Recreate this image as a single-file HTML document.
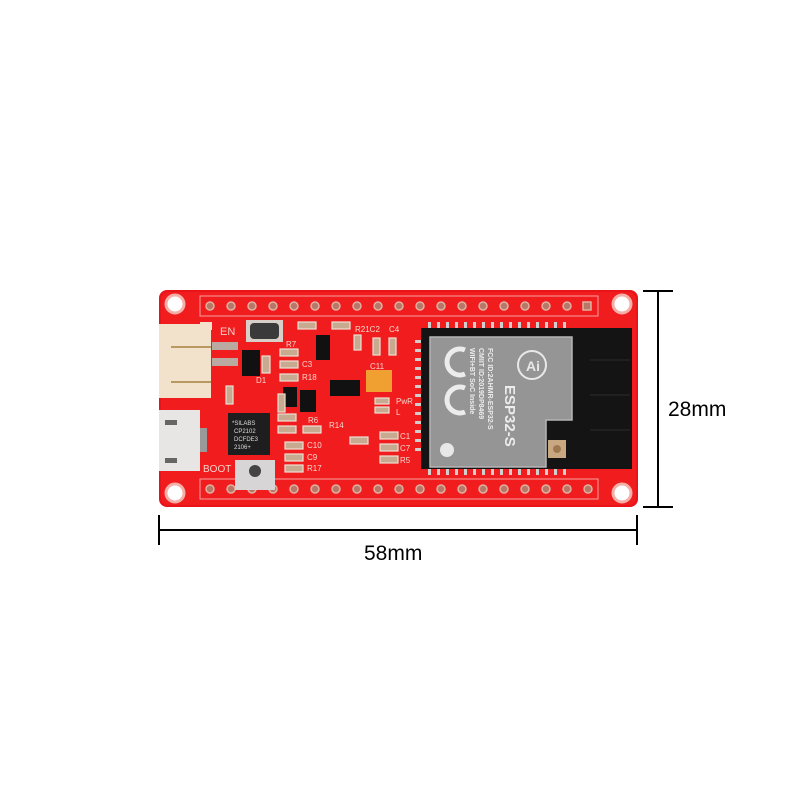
<!DOCTYPE html>
<html><head><meta charset="utf-8"><style>
html,body{margin:0;padding:0;background:#fff;width:800px;height:800px;overflow:hidden}
svg{display:block}
text{font-family:"Liberation Sans",sans-serif}
</style></head><body>
<svg width="800" height="800" viewBox="0 0 800 800" xmlns="http://www.w3.org/2000/svg">
<rect x="159" y="290" width="479" height="217" rx="8" fill="#e8141a"/>
<rect x="161" y="292" width="475" height="213" rx="7" fill="#f01c1e"/>
<rect x="200" y="296" width="398" height="20" fill="none" stroke="#f7a0a0" stroke-width="1"/>
<rect x="200" y="479" width="398" height="20" fill="none" stroke="#f7a0a0" stroke-width="1"/>
<g fill="#fff" stroke="#f4b0a8" stroke-width="3">
<circle cx="175" cy="304" r="9"/><circle cx="622" cy="304" r="9"/>
<circle cx="175" cy="493" r="9"/><circle cx="622" cy="493" r="9"/>
</g>
<g fill="#b87868" stroke="#e0b0a0" stroke-width="1.5">
<circle cx="210" cy="306" r="4"/><circle cx="231" cy="306" r="4"/><circle cx="252" cy="306" r="4"/><circle cx="273" cy="306" r="4"/><circle cx="294" cy="306" r="4"/><circle cx="315" cy="306" r="4"/><circle cx="336" cy="306" r="4"/><circle cx="357" cy="306" r="4"/><circle cx="378" cy="306" r="4"/><circle cx="399" cy="306" r="4"/><circle cx="420" cy="306" r="4"/><circle cx="441" cy="306" r="4"/><circle cx="462" cy="306" r="4"/><circle cx="483" cy="306" r="4"/><circle cx="504" cy="306" r="4"/><circle cx="525" cy="306" r="4"/><circle cx="546" cy="306" r="4"/><circle cx="567" cy="306" r="4"/>
<rect x="583" y="302" width="8" height="8"/>
<circle cx="210" cy="489" r="4"/><circle cx="231" cy="489" r="4"/><circle cx="252" cy="489" r="4"/><circle cx="273" cy="489" r="4"/><circle cx="294" cy="489" r="4"/><circle cx="315" cy="489" r="4"/><circle cx="336" cy="489" r="4"/><circle cx="357" cy="489" r="4"/><circle cx="378" cy="489" r="4"/><circle cx="399" cy="489" r="4"/><circle cx="420" cy="489" r="4"/><circle cx="441" cy="489" r="4"/><circle cx="462" cy="489" r="4"/><circle cx="483" cy="489" r="4"/><circle cx="504" cy="489" r="4"/><circle cx="525" cy="489" r="4"/><circle cx="546" cy="489" r="4"/><circle cx="567" cy="489" r="4"/><circle cx="588" cy="489" r="4"/>
</g>
<rect x="159" y="324" width="52" height="74" fill="#f2e2cc"/>
<rect x="200" y="322" width="12" height="8" fill="#f2e2cc"/>
<rect x="171" y="346" width="40" height="2" fill="#b89a60"/>
<rect x="171" y="381" width="40" height="2" fill="#b89a60"/>
<rect x="212" y="342" width="26" height="8" fill="#b9a9a0"/>
<rect x="212" y="358" width="26" height="8" fill="#b9a9a0"/>
<rect x="159" y="410" width="41" height="61" fill="#e8e6e4"/>
<rect x="200" y="428" width="7" height="24" fill="#999"/>
<rect x="165" y="420" width="12" height="5" fill="#666"/>
<rect x="165" y="458" width="12" height="5" fill="#666"/>
<rect x="246" y="320" width="37" height="22" fill="#d9cfc9"/>
<rect x="250" y="323" width="29" height="16" rx="4" fill="#3a3a3a"/>
<text x="220" y="335" font-size="11" fill="#f6d0c8">EN</text>
<rect x="235" y="460" width="40" height="30" fill="#d7d5d5"/>
<circle cx="255" cy="471" r="6" fill="#444"/>
<text x="203" y="472" font-size="10" fill="#f6d0c8">BOOT</text>
<rect x="228" y="413" width="42" height="42" fill="#1e1e1e"/>
<g font-size="6" fill="#ddd" font-family="Liberation Mono,monospace">
<text x="232" y="425">*SILABS</text><text x="234" y="433">CP2102</text><text x="234" y="441">DCFDE3</text><text x="234" y="449">2106+</text></g>
<g fill="#111">
<rect x="242" y="350" width="18" height="26"/>
<rect x="316" y="335" width="14" height="25"/>
<rect x="330" y="380" width="30" height="16"/>
<rect x="283" y="387" width="14" height="20"/>
<rect x="300" y="390" width="16" height="22"/>
</g>
<g fill="#c8aa90" stroke="#eee0d4" stroke-width="1.2">
<rect x="280" y="349" width="18" height="7"/><rect x="280" y="361" width="18" height="7"/><rect x="280" y="374" width="18" height="7"/>
<rect x="278" y="414" width="18" height="7"/><rect x="278" y="426" width="18" height="7"/><rect x="303" y="426" width="18" height="7"/>
<rect x="285" y="442" width="18" height="7"/><rect x="285" y="454" width="18" height="7"/><rect x="285" y="465" width="18" height="7"/>
<rect x="350" y="437" width="18" height="7"/><rect x="298" y="322" width="18" height="7"/><rect x="332" y="322" width="18" height="7"/>
<rect x="380" y="432" width="18" height="7"/><rect x="380" y="444" width="18" height="7"/><rect x="380" y="456" width="18" height="7"/>
<rect x="389" y="338" width="7" height="17"/><rect x="373" y="338" width="7" height="17"/><rect x="354" y="335" width="7" height="15"/>
<rect x="262" y="356" width="8" height="17"/><rect x="278" y="394" width="7" height="18"/><rect x="226" y="386" width="7" height="18"/>
<rect x="375" y="398" width="14" height="6"/><rect x="375" y="407" width="14" height="6"/>
</g>
<rect x="366" y="370" width="26" height="22" fill="#f0a030"/>
<g font-size="8" fill="#f6d6cc">
<text x="286" y="347">R7</text><text x="302" y="367">C3</text><text x="302" y="380">R18</text><text x="256" y="383">D1</text>
<text x="308" y="423">R6</text><text x="329" y="428">R14</text><text x="307" y="448">C10</text><text x="307" y="460">C9</text><text x="307" y="471">R17</text>
<text x="355" y="332">R21C2</text><text x="389" y="332">C4</text><text x="370" y="369">C11</text><text x="396" y="404">PwR</text><text x="396" y="415">L</text>
<text x="400" y="439">C1</text><text x="400" y="451">C7</text><text x="400" y="463">R5</text>
</g>
<rect x="421" y="328" width="211" height="141" fill="#141414"/>
<g fill="#cfcfcf">
<rect x="415" y="340" width="6" height="3"/><rect x="415" y="349" width="6" height="3"/><rect x="415" y="358" width="6" height="3"/><rect x="415" y="367" width="6" height="3"/><rect x="415" y="376" width="6" height="3"/><rect x="415" y="385" width="6" height="3"/><rect x="415" y="394" width="6" height="3"/><rect x="415" y="403" width="6" height="3"/><rect x="415" y="412" width="6" height="3"/><rect x="415" y="421" width="6" height="3"/><rect x="415" y="430" width="6" height="3"/><rect x="415" y="439" width="6" height="3"/><rect x="415" y="448" width="6" height="3"/>
<rect x="428" y="322" width="3" height="6"/><rect x="437" y="322" width="3" height="6"/><rect x="446" y="322" width="3" height="6"/><rect x="455" y="322" width="3" height="6"/><rect x="464" y="322" width="3" height="6"/><rect x="473" y="322" width="3" height="6"/><rect x="482" y="322" width="3" height="6"/><rect x="491" y="322" width="3" height="6"/><rect x="500" y="322" width="3" height="6"/><rect x="509" y="322" width="3" height="6"/><rect x="518" y="322" width="3" height="6"/><rect x="527" y="322" width="3" height="6"/><rect x="536" y="322" width="3" height="6"/><rect x="545" y="322" width="3" height="6"/><rect x="554" y="322" width="3" height="6"/><rect x="563" y="322" width="3" height="6"/>
<rect x="428" y="469" width="3" height="6"/><rect x="437" y="469" width="3" height="6"/><rect x="446" y="469" width="3" height="6"/><rect x="455" y="469" width="3" height="6"/><rect x="464" y="469" width="3" height="6"/><rect x="473" y="469" width="3" height="6"/><rect x="482" y="469" width="3" height="6"/><rect x="491" y="469" width="3" height="6"/><rect x="500" y="469" width="3" height="6"/><rect x="509" y="469" width="3" height="6"/><rect x="518" y="469" width="3" height="6"/><rect x="527" y="469" width="3" height="6"/><rect x="536" y="469" width="3" height="6"/><rect x="545" y="469" width="3" height="6"/><rect x="554" y="469" width="3" height="6"/><rect x="563" y="469" width="3" height="6"/>
</g>
<g stroke="#333" stroke-width="0.8">
<line x1="590" y1="360" x2="630" y2="360"/><line x1="590" y1="395" x2="630" y2="395"/><line x1="590" y1="430" x2="630" y2="430"/>
</g>
<path d="M430 337 H572 V420 H546 V467 H430 Z" fill="#959595" stroke="#b5b5b5" stroke-width="1.5"/>
<g fill="none" stroke="#ececec" stroke-width="5">
<path d="M465 350 a13 13 0 1 0 0 24"/>
<path d="M465 388 a13 13 0 1 0 0 24"/>
</g>
<circle cx="447" cy="450" r="7" fill="#e8e8e8"/>
<circle cx="532" cy="365" r="14" fill="none" stroke="#e8e8e8" stroke-width="2"/>
<text x="526" y="371" font-size="14" font-weight="bold" fill="#e8e8e8">Ai</text>
<g fill="#ececec" font-weight="bold" transform="rotate(90)">
<text x="348" y="-488" font-size="7">FCC ID:2AHMR-ESP32-S</text>
<text x="348" y="-479" font-size="7">CMIIT ID:2019DP8469</text>
<text x="348" y="-470" font-size="7">WIFI+BT SoC Inside</text>
<text x="385" y="-505" font-size="15">ESP32-S</text>
</g>
<rect x="548" y="440" width="18" height="18" fill="#c8a880"/>
<circle cx="557" cy="449" r="4" fill="#a07850"/>
<g stroke="#000" stroke-width="2">
<line x1="658" y1="291" x2="658" y2="507"/><line x1="643" y1="291" x2="673" y2="291"/><line x1="643" y1="507" x2="673" y2="507"/>
<line x1="159" y1="530" x2="637" y2="530"/><line x1="159" y1="515" x2="159" y2="545"/><line x1="637" y1="515" x2="637" y2="545"/>
</g>
<text x="668" y="416" font-size="21" fill="#000">28mm</text>
<text x="364" y="560" font-size="21" fill="#000">58mm</text>
</svg>
</body></html>
